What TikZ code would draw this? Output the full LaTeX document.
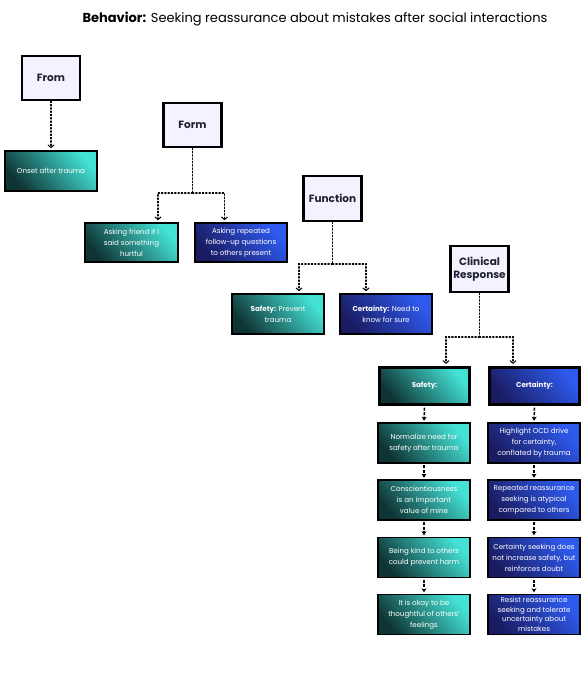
\documentclass[tikz,border=0pt]{standalone}
\usepackage{fontspec}
\setmainfont{Poppins}
\usetikzlibrary{arrows.meta,calc}
\definecolor{headfill}{HTML}{F4F2FF}
\definecolor{headtext}{HTML}{1E2033}
\definecolor{tealdark}{HTML}{0E3434}
\definecolor{tealbright}{HTML}{44E2D6}
\definecolor{bluedark}{HTML}{1A1C62}
\definecolor{bluebright}{HTML}{2E5AEE}
\tikzset{
  headbox/.style={draw=black, line width=2.4pt, fill=headfill, minimum width=58pt, minimum height=44pt,
    font=\fontsize{10.5}{13}\selectfont\bfseries, text=headtext, align=center, inner sep=1pt},
  tealbox/.style={draw=black, line width=1.6pt, shading=axis, top color=tealbright, bottom color=tealdark,
    shading angle=-50, minimum width=92pt, minimum height=40pt, align=center,
    font=\fontsize{7.1}{11}\selectfont, text=white, inner sep=1pt},
  bluebox/.style={tealbox, top color=bluebright, bottom color=bluedark, shading angle=-50},
  dotline/.style={dotted, line width=1.3pt, line cap=round},
  dotarrow/.style={dotline, -{Straight Barb[length=2.6pt,width=6pt,line width=1pt]}, shorten >=2pt},
  dasharrow/.style={dash pattern=on 3pt off 1.5pt, line width=1.5pt, -{Stealth[length=4pt,width=5pt]}, shorten >=1.5pt, shorten <=1.5pt},
}
\begin{document}
\begin{tikzpicture}[x=1pt,y=-1pt]
\useasboundingbox (0,0) rectangle (588,680);
\fill[white] (0,0) rectangle (588,680);

\node[font=\fontsize{13}{15}\selectfont, text=black, anchor=base] (title) at (315,22)
  {\textbf{Behavior:} Seeking reassurance about mistakes after social interactions};

% From
\node[headbox] (from) at (51,78) {From};
\node[tealbox] (onset) at (51,171) {Onset after trauma};
\draw[dotarrow] (from.south) -- (onset.north);

% Form
\node[headbox] (form) at (192.5,125) {Form};
\node[tealbox, minimum width=93pt, minimum height=39pt] (ask1) at (131.5,242.5) {Asking friend if I\\said something\\hurtful};
\node[bluebox, minimum height=39pt] (ask2) at (241,242.5) {Asking repeated\\follow-up questions\\to others present};
\coordinate (jform) at (192.5,193);
\draw[dotline] (form.south) -- (jform);
\draw[dotarrow] (jform) -| ([xshift=26.5pt]ask1.north);
\draw[dotarrow] (jform) -| ([xshift=-16.5pt]ask2.north);

% Function
\node[headbox, minimum height=45pt] (func) at (332.5,198.5) {Function};
\node[tealbox] (fsafe) at (278,314) {\textbf{Safety:} Prevent\\trauma};
\node[bluebox] (fcert) at (386,314) {\textbf{Certainty:} Need to\\know for sure};
\coordinate (jfunc) at (332.5,264);
\draw[dotline] (func.south) -- (jfunc);
\draw[dotarrow] (jfunc) -| ([xshift=21pt]fsafe.north);
\draw[dotarrow] (jfunc) -| ([xshift=-20pt]fcert.north);

% Clinical response
\node[headbox, minimum height=46pt] (clin) at (479.5,269) {Clinical\\Response};
\node[tealbox, line width=3.2pt, minimum width=90pt, minimum height=37pt] (csafe) at (424.5,386) {\textbf{Safety:}};
\node[bluebox, line width=3.2pt, minimum width=90pt, minimum height=37pt] (ccert) at (534.5,386) {\textbf{Certainty:}};
\coordinate (jclin) at (479.5,337);
\draw[dotline] (clin.south) -- (jclin);
\draw[dotarrow] (jclin) -| ([xshift=21.5pt]csafe.north);
\draw[dotarrow] (jclin) -| ([xshift=-21.5pt]ccert.north);

% Safety column
\node[tealbox] (l1) at (424,443) {Normalize need for\\safety after trauma};
\node[tealbox] (l2) at (424,500) {Conscientiousness\\is an important\\value of mine};
\node[tealbox] (l3) at (424,557.5) {Being kind to others\\could prevent harm};
\node[tealbox] (l4) at (424,614.5) {It is okay to be\\thoughtful of others'\\feelings};
\draw[dasharrow] (csafe.south) -- (l1.north);
\draw[dasharrow] (l1.south) -- (l2.north);
\draw[dasharrow] (l2.south) -- (l3.north);
\draw[dasharrow] (l3.south) -- (l4.north);

% Certainty column
\node[bluebox] (r1) at (534,443) {Highlight OCD drive\\for certainty,\\conflated by trauma};
\node[bluebox] (r2) at (534,500) {Repeated reassurance\\seeking is atypical\\compared to others};
\node[bluebox] (r3) at (534,557.5) {Certainty seeking does\\not increase safety, but\\reinforces doubt};
\node[bluebox, font=\fontsize{7.1}{9.6}\selectfont] (r4) at (534,614.5) {Resist reassurance\\seeking and tolerate\\uncertainty about\\mistakes};
\draw[dasharrow] (ccert.south) -- (r1.north);
\draw[dasharrow] (r1.south) -- (r2.north);
\draw[dasharrow] (r2.south) -- (r3.north);
\draw[dasharrow] (r3.south) -- (r4.north);
\end{tikzpicture}
\end{document}
